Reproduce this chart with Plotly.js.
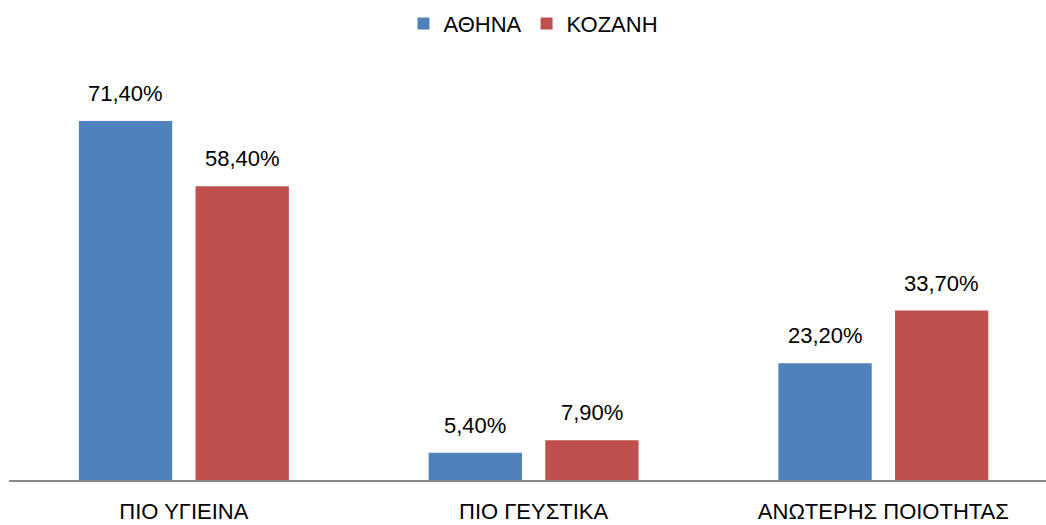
<!DOCTYPE html>
<html>
<head>
<meta charset="utf-8">
<script src="https://cdn.plot.ly/plotly-3.0.1.min.js"></script>
<style>html,body{margin:0;padding:0;background:#fff;}#chart{width:1046px;height:525px;}</style>
</head>
<body>
<div id="chart"></div>
<script>
const categories = ["ΠΙΟ ΥΓΙΕΙΝΑ", "ΠΙΟ ΓΕΥΣΤΙΚΑ", "ΑΝΩΤΕΡΗΣ ΠΟΙΟΤΗΤΑΣ"];
const seriesNames = ["ΑΘΗΝΑ", "ΚΟΖΑΝΗ"];
const athina = [71.4, 5.4, 23.2];
const kozani = [58.4, 7.9, 33.7];
const colors = ["#4F81BD", "#C0504D"];

const FONT = "Liberation Sans, Arial, sans-serif";
const bargap = 0.333;
const bargroupgap = 0.2;

const series = [athina, kozani];
const traces = series.map((vals, k) => ({
  type: "bar",
  name: seriesNames[k],
  x: categories,
  y: vals,
  marker: {color: colors[k]},
  hoverinfo: "skip"
}));

// value labels above bars, positioned at group-offset centers
const slot = (1 - bargap) / 2;
const annotations = [];
series.forEach((vals, k) => {
  const off = (k - 0.5) * slot;
  vals.forEach((v, i) => {
    annotations.push({
      xref: "x", yref: "y",
      x: i + off, y: v,
      text: v.toFixed(2).replace(".", ",") + "%",
      showarrow: false,
      yanchor: "bottom",
      yshift: 13,
      font: {family: FONT, size: 22, color: "#000"}
    });
  });
});

const layout = {
  width: 1046, height: 525,
  margin: {l: 9, r: 0, t: 40, b: 45, autoexpand: false},
  paper_bgcolor: "#fff", plot_bgcolor: "#fff",
  barmode: "group",
  bargap: bargap,
  bargroupgap: bargroupgap,
  separators: ",.",
  font: {family: FONT, size: 22, color: "#000"},
  showlegend: true,
  legend: {
    orientation: "h",
    xref: "container",
    x: 0.51, xanchor: "center",
    yref: "container",
    y: 0.955, yanchor: "middle",
    font: {family: FONT, size: 22, color: "#000"},
    itemwidth: 30
  },
  xaxis: {
    type: "category",
    range: [-0.5, 2.465],
    showline: true,
    linecolor: "#888888",
    linewidth: 1.5,
    ticks: "",
    showgrid: false,
    zeroline: false,
    tickfont: {family: FONT, size: 22, color: "#000"},
    ticklabelstandoff: 11
  },
  yaxis: {
    range: [0, 87.5],
    visible: false,
    showgrid: false,
    zeroline: false
  },
  annotations: annotations
};

Plotly.newPlot("chart", traces, layout, {displayModeBar: false, staticPlot: true});
</script>
</body>
</html>
